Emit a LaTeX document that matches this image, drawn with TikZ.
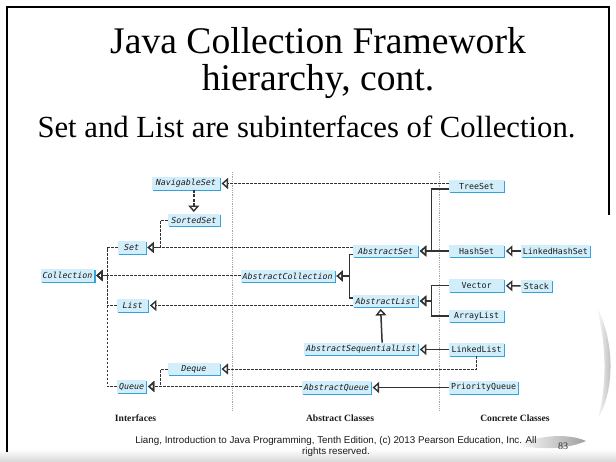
\documentclass[tikz,border=0pt]{standalone}
\usepackage{fontspec}
\setmainfont{Liberation Serif}
\setsansfont{Liberation Sans}
\setmonofont{DejaVu Sans Mono}
\usepackage{xcolor}
\usepackage{tikz}
\usetikzlibrary{positioning,arrows.meta,shadows}
\definecolor{BoxFill}{HTML}{D3EEFB}
\definecolor{BoxEdge}{HTML}{35A3DB}
\definecolor{LineDark}{HTML}{333333}
\definecolor{TextDark}{HTML}{1A1A1A}

\begin{document}
\begin{tikzpicture}[x=1pt, y=-1pt,
    cls/.style={fill=BoxFill, text=TextDark, font=\fontsize{8.3}{9}\ttfamily,
                inner xsep=2pt, inner ysep=0pt, minimum height=12.5pt,
                drop shadow={shadow xshift=1.2pt, shadow yshift=-1.2pt,
                             fill=BoxEdge, opacity=1}},
    iface/.style={cls, font=\fontsize{8.3}{9}\ttfamily\itshape},
    absc/.style={iface},
    conc/.style={cls, minimum width=55pt},
    ext/.style={draw=LineDark, line width=1.5pt, shorten >=1.5pt,
                -{Triangle[open, length=6.5pt, width=11pt, line width=1.4pt]}},
    impl/.style={draw=LineDark, line width=0.9pt, shorten >=1.5pt,
                 dash pattern=on 2.6pt off 1.4pt,
                 -{Triangle[open, length=6.5pt, width=11pt, line width=1.4pt]}},
    colsep/.style={draw=gray!70, line width=0.4pt, dash pattern=on 0.8pt off 1pt},
    colhead/.style={font=\fontsize{9.6}{10}\selectfont\bfseries, text=TextDark},
  ]
  \useasboundingbox (0,0) rectangle (616,461);
  \fill[white] (0,0) rectangle (616,461);

  % slide frame and decorations
  \shade[top color=white, bottom color=gray!28] (0,449) rectangle (616,461);
  \draw[line width=2.6pt] (7,452) -- (7,7) -- (609,7) -- (609,215);
  \shade[left color=white, right color=gray!65]
    (596,306) .. controls (615,340) and (615,390) .. (598,418)
    .. controls (607,385) and (607,345) .. (596,306) -- cycle;
  \shade[left color=white, right color=gray!75]
    (516,445) .. controls (540,435) and (568,433) .. (586,441)
    .. controls (570,448) and (545,451) .. (516,445) -- cycle;

  % title
  \node[font=\fontsize{37.6}{37}\selectfont, anchor=base] (title1) at (318,53) {Java Collection Framework};
  \node[font=\fontsize{37.6}{37}\selectfont, anchor=base] (title2) at (318,90.5) {hierarchy, cont.};
  \node[font=\fontsize{30.7}{32}\selectfont, anchor=base west] (subtitle) at (34,137.5)
    {Set and List are subinterfaces of Collection.};

  % column separators
  \draw[colsep] (232.3,172) -- (232.3,410);
  \draw[colsep] (439.3,172) -- (439.3,410);

  % interfaces
  \node[iface, minimum width=68pt, anchor=east] (navigableset) at (220,183.5) {NavigableSet};
  \node[iface, minimum width=52pt, anchor=east] (sortedset) at (220,220) {SortedSet};
  \node[iface, minimum width=28pt, anchor=west] (set) at (117.5,247.5) {Set};
  \node[iface] (collection) at (67.5,275.5) {Collection};
  \node[iface, minimum width=31pt, anchor=west] (list) at (117,305.5) {List};
  \node[iface, minimum width=52pt, anchor=east] (deque) at (220,369) {Deque};
  \node[iface, anchor=west] (queue) at (117,386.5) {Queue};

  % abstract classes
  \node[absc] (abstractcollection) at (287.7,276) {AbstractCollection};
  \node[absc, minimum width=65pt, anchor=east] (abstractset) at (418.3,251) {AbstractSet};
  \node[absc, minimum width=65pt, anchor=east] (abstractlist) at (418.3,301) {AbstractList};
  \node[absc, anchor=east] (abstractseqlist) at (418.3,349) {AbstractSequentialList};
  \node[absc, anchor=west] (abstractqueue) at (301.7,387.5) {AbstractQueue};

  % concrete classes
  \node[conc, anchor=west] (treeset) at (449,186) {TreeSet};
  \node[conc, anchor=west] (hashset) at (449,251) {HashSet};
  \node[conc, anchor=west] (vector) at (449,285.5) {Vector};
  \node[conc, anchor=west] (arraylist) at (449,316) {ArrayList};
  \node[conc, anchor=west] (linkedlist) at (449,349.5) {LinkedList};
  \node[conc, anchor=west] (priorityqueue) at (449,387.5) {PriorityQueue};
  \node[cls, anchor=west] (linkedhashset) at (520.7,251) {LinkedHashSet};
  \node[cls, minimum width=31pt, anchor=west] (stack) at (520.7,286) {Stack};

  % junction points
  \coordinate (ctrunk) at (107.3,275.5);
  \coordinate (acbus) at (349.3,276);
  \coordinate (asbus) at (431.7,251);
  \coordinate (albus) at (431.7,301);

  % interface links
  \draw[impl, line width=1.6pt, dash pattern=on 3pt off 1.5pt]
    (navigableset.south -| sortedset) -- (sortedset.north);
  \draw[impl] (treeset.west |- navigableset.east) -- (navigableset.east);
  \draw[impl] (sortedset.west) -- ++(-7,0) |- (set.east);
  \draw[impl] (abstractset.west |- set.east) -- (set.east);
  \draw[impl] (set.west) -| (ctrunk) -- (collection.east);
  \draw[impl] (list.west) -| (ctrunk) -- (collection.east);
  \draw[impl] (queue.west) -| (ctrunk) -- (collection.east);
  \draw[impl] (abstractcollection.west |- collection.east) -- (collection.east);
  \draw[impl] (abstractlist.west |- list.east) -- (list.east);
  \draw[impl] (linkedlist.south) |- (deque.east);
  \draw[impl] (deque.west) -- ++(-7,0) |- (queue.east);
  \draw[impl] (abstractqueue.west |- queue.east) -- (queue.east);

  % class links
  \draw[ext] ([yshift=-3.3pt]abstractset.west) -| (acbus) -- (abstractcollection.east);
  \draw[ext] ([yshift=3pt]abstractlist.west) -| (acbus) -- (abstractcollection.east);
  \draw[ext] ([yshift=-3pt]treeset.west) -| (asbus) -- (abstractset.east);
  \draw[ext] (hashset) -- (abstractset);
  \draw[ext] (linkedhashset) -- (hashset);
  \draw[ext] (vector.west) -| (albus) -- (abstractlist.east);
  \draw[ext] (arraylist.west) -| (albus) -- (abstractlist.east);
  \draw[ext] (stack) -- (vector);
  \draw[ext] ([xshift=21pt]abstractseqlist.north) -- ([xshift=-5pt]abstractlist.south);
  \draw[ext] (linkedlist.west) -- (linkedlist.west -| abstractseqlist.east);
  \draw[ext] (priorityqueue) -- (abstractqueue);

  % column headings
  \node[colhead] (hdifc) at (135.5,418) {Interfaces};
  \node[colhead] (hdabs) at (340,418) {Abstract Classes};
  \node[colhead] (hdconc) at (515,418) {Concrete Classes};

  % footer
  \node[font=\sffamily\fontsize{9.8}{10.8}\selectfont, align=center, text=TextDark]
    (footer) at (336,446.5) {Liang, Introduction to Java Programming, Tenth Edition, (c) 2013 Pearson Education, Inc. All\\rights reserved.};
  \node[font=\fontsize{10}{10}\selectfont, text=black!80] (pagenum) at (563,446) {83};
\end{tikzpicture}
\end{document}
